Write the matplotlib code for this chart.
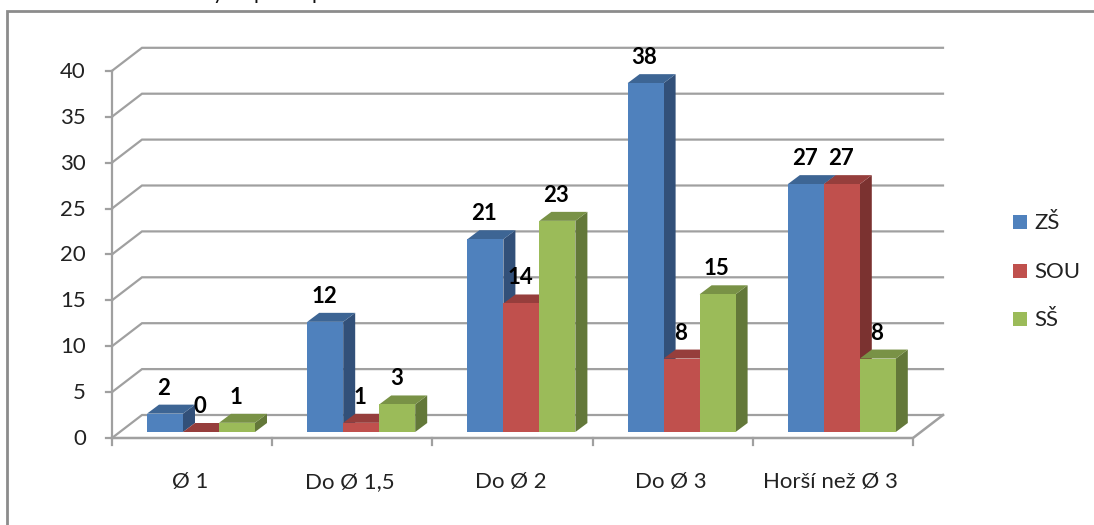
#!/usr/bin/env python3
import matplotlib
matplotlib.use("Agg")
import matplotlib.pyplot as plt
from matplotlib.patches import Polygon, Rectangle

plt.rcParams["font.family"] = ["Lato", "DejaVu Sans"]

categories = ["Ø 1", "Do Ø 1,5", "Do Ø 2", "Do Ø 3", "Horší než Ø 3"]
zs = [2, 12, 21, 38, 27]
sou = [0, 1, 14, 8, 27]
ss = [1, 3, 23, 15, 8]
series_names = ["ZŠ", "SOU", "SŠ"]
y_ticks = [0, 5, 10, 15, 20, 25, 30, 35, 40]
# only the descenders of the cropped title are visible in the picture
title_bits = [("y", 218), ("p", 259), ("p", 317)]

# front, top, side colours per series
colors = [
    ("#4f81bd", "#3d6594", "#325079"),
    ("#c0504d", "#963e3c", "#7b3230"),
    ("#9bbb59", "#799246", "#637839"),
]
grid_color = "#a0a0a0"

W, H = 1094, 525
X0, Y0 = 112, 438  # pixel of category 0 / value 0
PX_CAT = 160.2
PX_VAL = 9.18

fig = plt.figure(figsize=(W / 100, H / 100), dpi=100)
ax = fig.add_axes([0, 0, 1, 1])
ax.set_xlim(-X0 / PX_CAT, (W - X0) / PX_CAT)
ax.set_ylim((Y0 - H) / PX_VAL, Y0 / PX_VAL)
ax.axis("off")


def dx(px):
    return px / PX_CAT


def dy(px):
    return px / PX_VAL


# outer frame, open on the right and at the bottom
ax.plot([dx(7.5 - X0), dx(7.5 - X0), dx(W - X0)],
        [dy(Y0 - H), dy(Y0 - 11), dy(Y0 - 11)],
        color="#8c8c8c", lw=2, solid_joinstyle="miter")

# cut off title at the very top
for ch, px in title_bits:
    ax.text(dx(px - X0), dy(Y0 + 1), ch, ha="center", va="baseline",
            fontsize=15, color="#111111")

# walls and gridlines
back_x, back_y = dx(30), dy(23)
for v in y_ticks:
    ax.plot([0, back_x, 5 + back_x], [v, v + back_y, v + back_y], color=grid_color, lw=1.6,
            solid_joinstyle="miter")
    ax.plot([-dx(6), 0], [v, v], color=grid_color, lw=1.6)
    ax.text(-dx(26), v + dy(-1), str(v), ha="right", va="center", fontsize=16, color="#222222")
ax.plot([0, 0], [0, 40], color=grid_color, lw=1.6)
ax.plot([0, 5, 5 + back_x], [0, 0, back_y], color=grid_color, lw=1.8)
for i in range(6):
    ax.plot([i, i], [0, -dy(7)], color=grid_color, lw=1.6)

# bars
bar_w = 36 / PX_CAT
bar_start = 35 / PX_CAT
base = dy(6)
depth_x, depth_y = dx(12), dy(9)
for i in range(len(categories)):
    for s, values in enumerate([zs, sou, ss]):
        v = values[i]
        left = i + bar_start + s * bar_w
        right = left + bar_w
        top = base + v
        front_c, top_c, side_c = colors[s]
        z = 3 + s
        ax.add_patch(Polygon([(right, base), (right + depth_x, base + depth_y),
                              (right + depth_x, top + depth_y), (right, top)],
                             fc=side_c, ec="none", zorder=z))
        ax.add_patch(Polygon([(left, top), (left + depth_x, top + depth_y),
                              (right + depth_x, top + depth_y), (right, top)],
                             fc=top_c, ec="none", zorder=z))
        ax.add_patch(Rectangle((left, base), bar_w, v, fc=front_c, ec="none", zorder=z))
        ax.text(left + bar_w / 2 - dx(1), top + dy(15), str(v), ha="center", va="bottom",
                fontsize=16, fontweight="bold", color="black", zorder=10)

# category labels
for i, name in enumerate(categories):
    ax.text(i + 0.5 + dx(-2), dy(-44), name, ha="center", va="center", fontsize=16, color="#222222")

# legend
for s, name in enumerate(series_names):
    yp = 222 + s * 48.7
    ax.add_patch(Rectangle((dx(1013 - X0), dy(Y0 - yp - 7)), dx(14), dy(14), fc=colors[s][0], ec="none"))
    ax.text(dx(1034 - X0), dy(Y0 - yp - 1), name, ha="left", va="center", fontsize=16, color="#222222")

fig.savefig("out.png", dpi=100)
